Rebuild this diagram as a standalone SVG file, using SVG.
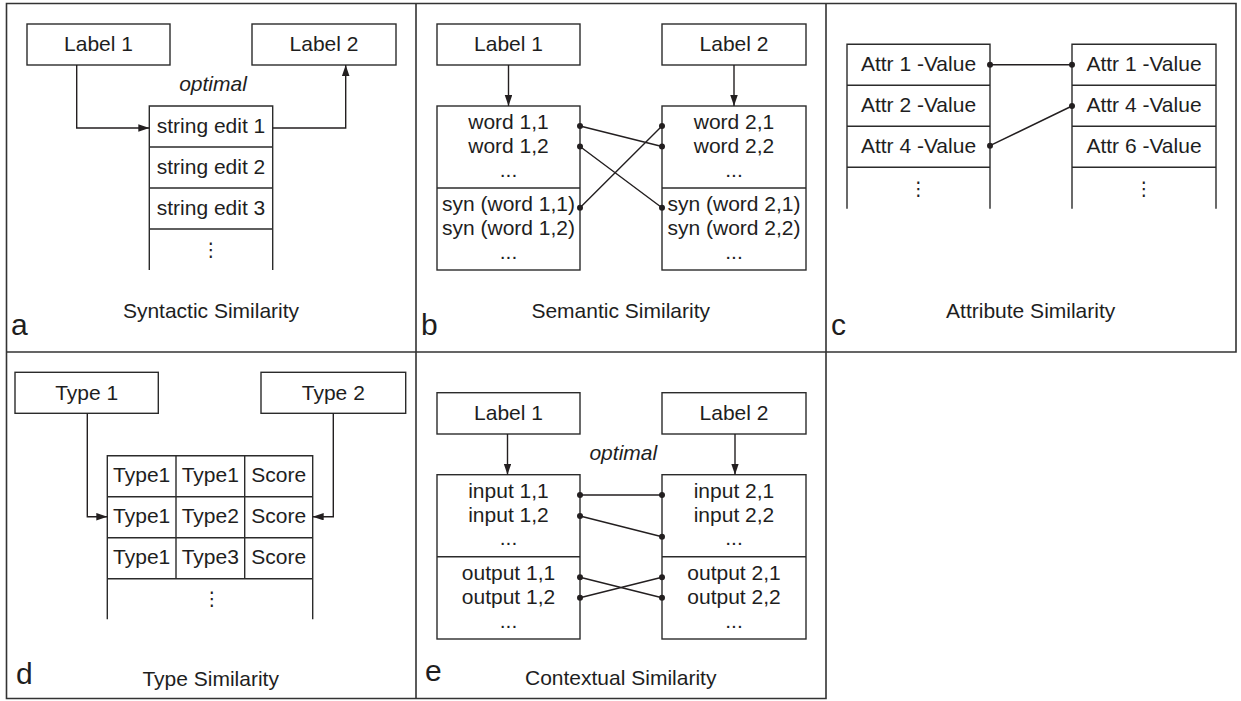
<svg xmlns="http://www.w3.org/2000/svg" width="1241" height="701" viewBox="0 0 1241 701">
<style>
  text { font-family: "Liberation Sans", Arial, sans-serif; font-size: 21px; fill: #1e1e1e; text-anchor: middle; }
  .it { font-style: italic; }
  .big { font-size: 30px; text-anchor: start; }
  .vd { font-family: "DejaVu Sans", sans-serif; font-size: 19px; }
  .box { fill: #fff; stroke: #2b2b2b; stroke-width: 1.4; }
  .ln { fill: none; stroke: #2b2b2b; stroke-width: 1.4; }
  .frame { fill: none; stroke: #333; stroke-width: 1.6; }
  .con { fill: none; stroke: #231f20; stroke-width: 1.4; }
  .arr { fill: none; stroke: #231f20; stroke-width: 1.4; marker-end: url(#ah); }
  .dot { fill: #231f20; }
</style>
<defs>
  <marker id="ah" markerUnits="userSpaceOnUse" markerWidth="12" markerHeight="8" refX="11" refY="3.75" orient="auto">
    <path d="M0,0 L11,3.75 L0,7.5 z" fill="#231f20"/>
  </marker>
</defs>
<rect width="1241" height="701" fill="#fff"/>

<g id="frames">
  <path class="frame" d="M6.5,3.5 H1236 V352 H6.5 Z M6.5,352 V698.5 H826 V3.5 M416,3.5 V698.5"/>
</g>

<!-- Panel a -->
<g id="a-label1"><rect class="box" x="27" y="24" width="143" height="41"/><text x="98.5" y="50.5">Label 1</text></g>
<g id="a-label2"><rect class="box" x="252" y="24" width="144" height="41"/><text x="324" y="50.5">Label 2</text></g>
<g id="a-table">
  <path class="ln" d="M149.3,270 V106 H272.7 V270 M149.3,147 H272.7 M149.3,188 H272.7 M149.3,229 H272.7"/>
  <text x="211" y="133.3">string edit 1</text>
  <text x="211" y="174.3">string edit 2</text>
  <text x="211" y="215.3">string edit 3</text>
  <text class="vd" x="211" y="256">⋮</text>
</g>
<g id="a-texts">
  <text class="it" x="213" y="91">optimal</text>
  <text x="211" y="318">Syntactic Similarity</text>
  <text class="big" x="11" y="335">a</text>
</g>

<!-- Panel b -->
<g id="b-label1"><rect class="box" x="437" y="24" width="143" height="41"/><text x="508.5" y="50.5">Label 1</text></g>
<g id="b-label2"><rect class="box" x="662" y="24" width="144" height="41"/><text x="734" y="50.5">Label 2</text></g>
<g id="b-left">
  <rect class="box" x="437" y="106" width="143" height="164"/>
  <path class="ln" d="M437,188 H580"/>
  <text x="508.5" y="129">word 1,1</text>
  <text x="508.5" y="153">word 1,2</text>
  <text x="508.5" y="177">...</text>
  <text x="508.5" y="211">syn (word 1,1)</text>
  <text x="508.5" y="235">syn (word 1,2)</text>
  <text x="508.5" y="259">...</text>
</g>
<g id="b-right">
  <rect class="box" x="662" y="106" width="144" height="164"/>
  <path class="ln" d="M662,188 H806"/>
  <text x="734" y="129">word 2,1</text>
  <text x="734" y="153">word 2,2</text>
  <text x="734" y="177">...</text>
  <text x="734" y="211">syn (word 2,1)</text>
  <text x="734" y="235">syn (word 2,2)</text>
  <text x="734" y="259">...</text>
</g>
<g id="b-texts">
  <text x="620.7" y="318">Semantic Similarity</text>
  <text class="big" x="421" y="335">b</text>
</g>

<!-- Panel c -->
<g id="c-left">
  <path class="ln" d="M847,208.7 V44.3 H990 V208.7 M847,85.3 H990 M847,126.3 H990 M847,167.3 H990"/>
  <text x="918.5" y="70.7">Attr 1 -Value</text>
  <text x="918.5" y="111.7">Attr 2 -Value</text>
  <text x="918.5" y="152.7">Attr 4 -Value</text>
  <text class="vd" x="918.5" y="195">⋮</text>
</g>
<g id="c-right">
  <path class="ln" d="M1072,208.7 V44.3 H1216 V208.7 M1072,85.3 H1216 M1072,126.3 H1216 M1072,167.3 H1216"/>
  <text x="1144" y="70.7">Attr 1 -Value</text>
  <text x="1144" y="111.7">Attr 4 -Value</text>
  <text x="1144" y="152.7">Attr 6 -Value</text>
  <text class="vd" x="1144" y="195">⋮</text>
</g>
<g id="c-texts">
  <text x="1030.7" y="318">Attribute Similarity</text>
  <text class="big" x="831" y="335">c</text>
</g>

<!-- Panel d -->
<g id="d-type1"><rect class="box" x="15" y="372.3" width="143.3" height="41"/><text x="86.7" y="400">Type 1</text></g>
<g id="d-type2"><rect class="box" x="261" y="372.3" width="144.7" height="41"/><text x="333.3" y="400">Type 2</text></g>
<g id="d-table">
  <path class="ln" d="M107.3,619.3 V455.7 H312.7 V619.3 M107.3,496.7 H312.7 M107.3,537.7 H312.7 M107.3,578.7 H312.7 M176,455.7 V578.7 M244.7,455.7 V578.7"/>
  <text x="141.7" y="481.7">Type1</text><text x="210.3" y="481.7">Type1</text><text x="278.7" y="481.7">Score</text>
  <text x="141.7" y="522.7">Type1</text><text x="210.3" y="522.7">Type2</text><text x="278.7" y="522.7">Score</text>
  <text x="141.7" y="563.5">Type1</text><text x="210.3" y="563.5">Type3</text><text x="278.7" y="563.5">Score</text>
  <text class="vd" x="212" y="605">⋮</text>
</g>
<g id="d-texts">
  <text x="210.7" y="686">Type Similarity</text>
  <text class="big" x="16" y="684">d</text>
</g>

<!-- Panel e -->
<g id="e-label1"><rect class="box" x="437" y="392.7" width="143" height="41.3"/><text x="508.5" y="419.5">Label 1</text></g>
<g id="e-label2"><rect class="box" x="662" y="392.7" width="144" height="41.3"/><text x="734" y="419.5">Label 2</text></g>
<g id="e-left">
  <rect class="box" x="437" y="474.7" width="143" height="164.3"/>
  <path class="ln" d="M437,556.7 H580"/>
  <text x="508.5" y="498.3">input 1,1</text>
  <text x="508.5" y="521.7">input 1,2</text>
  <text x="508.5" y="545">...</text>
  <text x="508.5" y="580">output 1,1</text>
  <text x="508.5" y="604.3">output 1,2</text>
  <text x="508.5" y="628.3">...</text>
</g>
<g id="e-right">
  <rect class="box" x="662" y="474.7" width="144" height="164.3"/>
  <path class="ln" d="M662,556.7 H806"/>
  <text x="734" y="498.3">input 2,1</text>
  <text x="734" y="521.7">input 2,2</text>
  <text x="734" y="545">...</text>
  <text x="734" y="580">output 2,1</text>
  <text x="734" y="604.3">output 2,2</text>
  <text x="734" y="628.3">...</text>
</g>
<g id="e-texts">
  <text class="it" x="623.3" y="460">optimal</text>
  <text x="620.7" y="685">Contextual Similarity</text>
  <text class="big" x="425" y="681">e</text>
</g>

<g id="connectors">
  <!-- a -->
  <path class="arr" d="M76.7,65 V128 H149.3"/>
  <path class="arr" d="M272.7,128 H345.7 V65"/>
  <!-- b -->
  <path class="arr" d="M508.5,65 V106"/>
  <path class="arr" d="M734,65 V106"/>
  <path class="con" d="M580,126 L662,146.5 M580,146.5 L662,207.7 M580,207.7 L662,126"/>
  <circle class="dot" cx="580" cy="126" r="3"/><circle class="dot" cx="580" cy="146.5" r="3"/><circle class="dot" cx="580" cy="207.7" r="3"/>
  <circle class="dot" cx="662" cy="126" r="3"/><circle class="dot" cx="662" cy="146.5" r="3"/><circle class="dot" cx="662" cy="207.7" r="3"/>
  <!-- c -->
  <path class="con" d="M990,64.7 H1072 M990,145.7 L1072,106"/>
  <circle class="dot" cx="990" cy="64.7" r="3"/><circle class="dot" cx="1072" cy="64.7" r="3"/>
  <circle class="dot" cx="990" cy="145.7" r="3"/><circle class="dot" cx="1072" cy="106" r="3"/>
  <!-- d -->
  <path class="arr" d="M87.3,413.3 V516.7 H107.3"/>
  <path class="arr" d="M333.3,413.3 V516.7 H312.7"/>
  <!-- e -->
  <path class="arr" d="M507.5,434 V474.7"/>
  <path class="arr" d="M735,434 V474.7"/>
  <path class="con" d="M580,495 H662 M580,516 L662,536.7 M580,577.3 L662,597.7 M580,597.7 L662,577.3"/>
  <circle class="dot" cx="580" cy="495" r="3"/><circle class="dot" cx="580" cy="516" r="3"/><circle class="dot" cx="580" cy="577.3" r="3"/><circle class="dot" cx="580" cy="597.7" r="3"/>
  <circle class="dot" cx="662" cy="495" r="3"/><circle class="dot" cx="662" cy="536.7" r="3"/><circle class="dot" cx="662" cy="577.3" r="3"/><circle class="dot" cx="662" cy="597.7" r="3"/>
</g>
</svg>
